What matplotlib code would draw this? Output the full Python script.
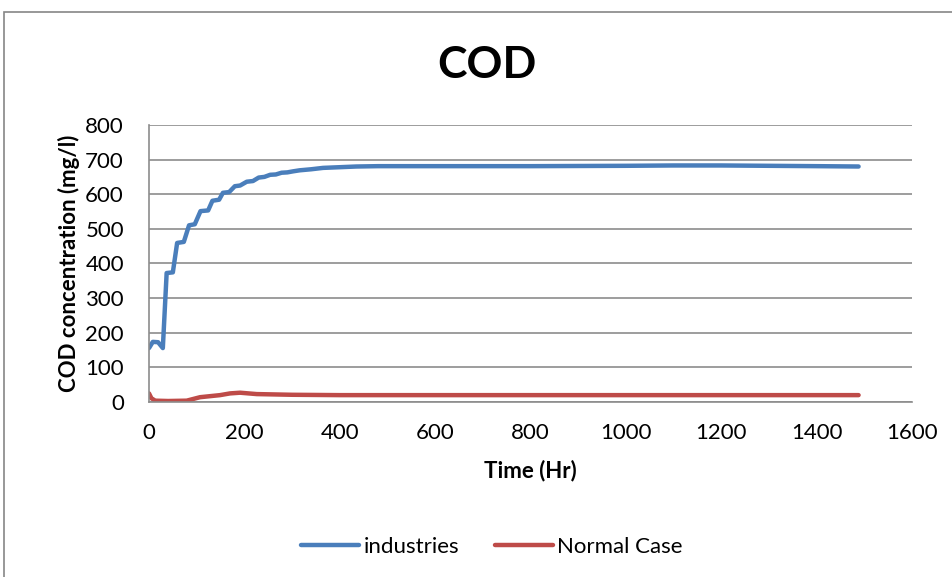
import matplotlib.pyplot as plt
from matplotlib.patches import Rectangle

# COD concentration over time
t_ind = [0, 8, 19, 29, 37, 50, 59, 73, 84, 96, 108, 124, 133, 147, 155, 168, 180, 191,
         205, 218, 230, 242, 254, 266, 278, 290, 302, 316, 340, 365, 400, 435, 480, 550,
         650, 800, 1000, 1100, 1200, 1300, 1400, 1488]
cod_ind = [155, 173, 172, 155, 372, 374, 459, 462, 510, 513, 551, 553, 581, 584, 604, 606,
           623, 625, 636, 638, 648, 650, 656, 657, 662, 663, 666, 669, 672, 676, 678, 680,
           681, 681, 681, 681, 682, 683, 683, 682, 681, 680]

t_norm = [0, 5, 13, 40, 79, 107, 149, 170, 191, 226, 300, 400, 600, 900, 1200, 1488]
cod_norm = [24, 10, 3, 2, 3, 13, 19, 24, 26, 22, 20, 19, 19, 19, 19, 19]

blue = "#4a7ebb"
red = "#be4b48"
grid_col = "#8c8c8c"

plt.rcParams['font.family'] = ['Lato', 'DejaVu Sans']

fig = plt.figure(figsize=(9.53, 5.77), dpi=100)
ax = fig.add_axes([149 / 953, 1 - 401.7 / 577, (912 - 149) / 953, (401.7 - 125) / 577])

ax.plot(t_ind, cod_ind, color=blue, lw=3.2, label="industries", solid_capstyle="round")
ax.plot(t_norm, cod_norm, color=red, lw=3.2, label="Normal Case", solid_capstyle="round")

ax.set_xlim(0, 1600)
ax.set_ylim(0, 800)
ax.set_xticks(range(0, 1601, 200))
ax.set_yticks(range(0, 801, 100))
ax.grid(axis="y", color=grid_col, lw=1.2)
ax.set_axisbelow(True)
for s in ["top", "right"]:
    ax.spines[s].set_visible(False)
for s in ["left", "bottom"]:
    ax.spines[s].set_color(grid_col)
    ax.spines[s].set_linewidth(1.2)
ax.tick_params(length=0, labelsize=16)
ax.tick_params(axis="x", pad=15)
ax.tick_params(axis="y", pad=18)

ax.set_xlabel("Time (Hr)", fontsize=16, fontweight="bold", labelpad=12)
ax.set_ylabel("COD concentration (mg/l)", fontsize=16, fontweight="bold", labelpad=4)
fig.text(487 / 953, 1 - 65 / 577, "COD", fontsize=32,
         fontweight="bold", ha="center", va="center")

fig.legend(loc="center", bbox_to_anchor=(492 / 953, 1 - 547 / 577), ncol=2, frameon=False,
           fontsize=16, handlelength=2.6, columnspacing=1.6, handletextpad=0.2)

# outer chart border
fig.patches.append(Rectangle((4 / 953, -0.1), 1.2, 1.1 - 12 / 577, transform=fig.transFigure,
                             fill=False, edgecolor="#868686", lw=1.2))

fig.savefig("out.png", dpi=100)
